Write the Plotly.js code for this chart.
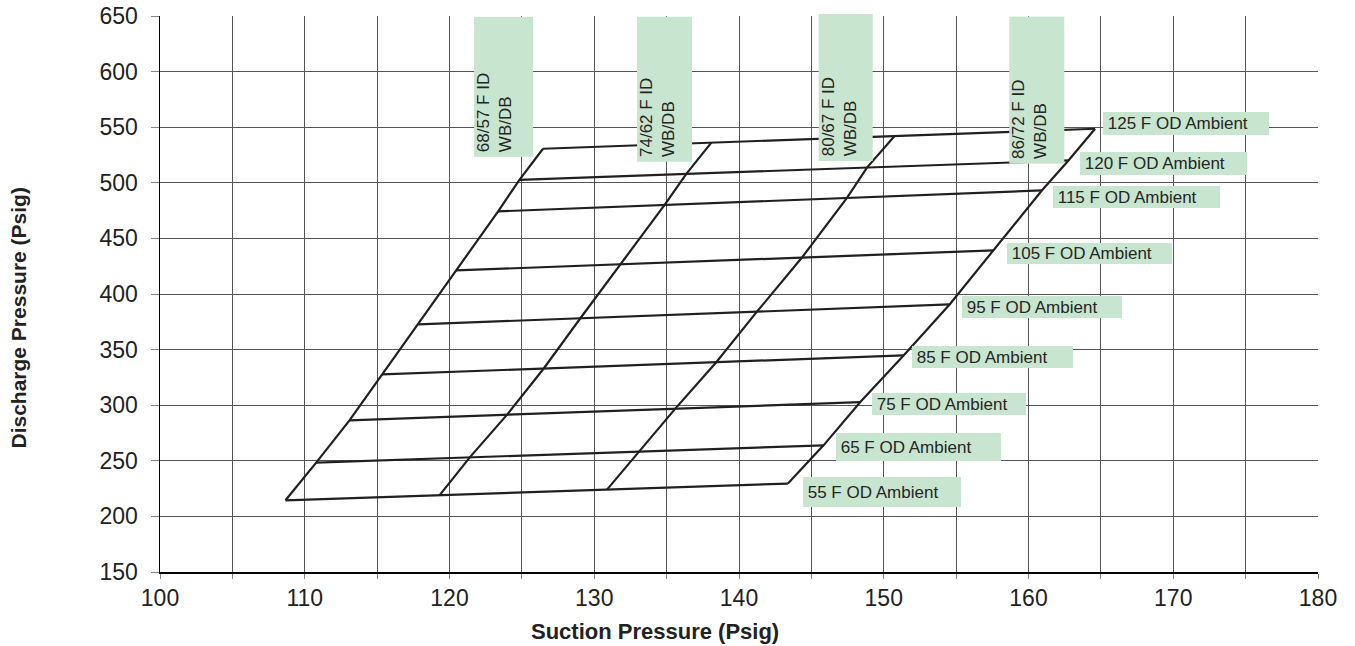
<!DOCTYPE html>
<html>
<head>
<meta charset="utf-8">
<script src="https://cdn.plot.ly/plotly-3.0.1.min.js"></script>
<style>html,body{margin:0;padding:0;background:#fff;}#chart{width:1355px;height:646px;}</style>
</head>
<body>
<div id="chart"></div>
<script>
// Outdoor ambient temperatures (rows) and indoor WB/DB conditions (columns)
const ambientTemps = [55, 65, 75, 85, 95, 105, 115, 120, 125];
const ambientLabels = ["55 F OD Ambient", "65 F OD Ambient", "75 F OD Ambient", "85 F OD Ambient",
  "95 F OD Ambient", "105 F OD Ambient", "115 F OD Ambient", "120 F OD Ambient", "125 F OD Ambient"];
const indoorLabels = ["68/57 F ID<br>WB/DB", "74/62 F ID<br>WB/DB", "80/67 F ID<br>WB/DB", "86/72 F ID<br>WB/DB"];

// Suction pressure (Psig) per indoor condition, one value per ambient row
const suction6857 = [108.67, 110.79, 113.09, 115.34, 117.83, 120.45, 123.36, 124.83, 126.46];
const suction7462 = [119.32, 121.40, 123.98, 126.51, 129.04, 131.80, 134.86, 136.36, 138.09];
const suction8067 = [130.88, 133.07, 135.60, 138.43, 141.24, 144.35, 147.46, 148.84, 150.75];
const suction8672 = [143.38, 145.84, 148.38, 151.37, 154.55, 157.58, 160.92, 162.76, 164.60];

// Discharge pressure (Psig) per indoor condition, one value per ambient row
const discharge6857 = [214.5, 248.4, 286.4, 327.7, 372.7, 421.2, 474.3, 502.7, 530.6];
const discharge7462 = [219.1, 253.1, 291.5, 333.0, 378.2, 426.7, 480.1, 508.0, 536.1];
const discharge8067 = [224.1, 258.2, 296.9, 338.7, 384.1, 432.8, 486.4, 513.7, 542.1];
const discharge8672 = [229.5, 263.9, 302.8, 344.8, 390.6, 439.2, 493.1, 520.1, 548.6];

// Axis ticks and titles
const xTickVals = [100, 110, 120, 130, 140, 150, 160, 170, 180];
const yTickVals = [150, 200, 250, 300, 350, 400, 450, 500, 550, 600, 650];
const xTitle = 'Suction Pressure (Psig)';
const yTitle = 'Discharge Pressure (Psig)';

const suctionCols = [suction6857, suction7462, suction8067, suction8672];
const dischargeCols = [discharge6857, discharge7462, discharge8067, discharge8672];

const lineStyle = {color: '#202020', width: 2.2};
const traces = [];
// Ambient lines (across indoor conditions)
ambientTemps.forEach((t, i) => {
  traces.push({
    x: suctionCols.map(c => c[i]),
    y: dischargeCols.map(c => c[i]),
    mode: 'lines', line: lineStyle, hoverinfo: 'skip', showlegend: false
  });
});
// Indoor condition lines (across ambient temps)
suctionCols.forEach((c, j) => {
  traces.push({
    x: c, y: dischargeCols[j],
    mode: 'lines', line: lineStyle, hoverinfo: 'skip', showlegend: false
  });
});

const labelBg = '#c8e5cf';
const fam = 'Liberation Sans, Arial, sans-serif';
const labelFont = {family: fam, size: 17, color: '#262626'};
const NB = '\u00a0';

// Ambient label placement (box left x in data, centre y in data, box w/h in px)
const ambLabelPos = [
  [144.39, 222.3, 158, 30], [146.67, 262.8, 165, 28], [149.21, 301.4, 154, 22],
  [151.97, 343.3, 161, 22], [155.42, 388.2, 160, 22], [158.53, 436.5, 165, 21],
  [161.66, 487.1, 167, 22], [163.57, 517.4, 167, 23], [165.18, 553.4, 166, 23]
];
// Indoor label placement (centre x, centre y, box length along text, box thickness)
const idLabelPos = [
  [123.73, 586.7, 140, 59], [134.88, 584.5, 145, 55], [147.38, 586.0, 147, 54], [160.55, 583.3, 147, 55]
];

const annotations = [];
ambientLabels.forEach((txt, i) => {
  const p = ambLabelPos[i];
  annotations.push({
    xref: 'x', yref: 'y', x: p[0], y: p[1], xanchor: 'left', yanchor: 'middle',
    text: NB + txt, showarrow: false, bgcolor: labelBg, borderpad: 0, borderwidth: 0,
    width: p[2], height: p[3], align: 'left', valign: 'middle', font: labelFont
  });
});
indoorLabels.forEach((txt, j) => {
  const p = idLabelPos[j];
  annotations.push({
    xref: 'x', yref: 'y', x: p[0], y: p[1], xanchor: 'center', yanchor: 'middle',
    text: txt.split('<br>').map(s => NB + s).join('<br>'), showarrow: false, textangle: -90,
    bgcolor: labelBg, borderpad: 0, borderwidth: 0,
    width: p[2], height: p[3], align: 'left', valign: 'top', font: labelFont
  });
});
// Axis titles (positioned as in the reference, not centred on the plot)
annotations.push({
  xref: 'paper', yref: 'paper', x: 0.4277, y: -0.1068, xanchor: 'center', yanchor: 'middle',
  text: '<b>' + xTitle + '</b>', showarrow: false, font: {family: fam, size: 22, color: '#222222'}
});
annotations.push({
  xref: 'paper', yref: 'paper', x: -0.1221, y: 0.457, xanchor: 'center', yanchor: 'middle',
  text: '<b>' + yTitle + '</b>', showarrow: false, textangle: -90, font: {family: fam, size: 21, color: '#222222'}
});

const gridColor = '#555555';
const layout = {
  width: 1355, height: 646,
  margin: {l: 159.5, r: 37, t: 15.5, b: 74.4, pad: 0},
  paper_bgcolor: '#ffffff', plot_bgcolor: '#ffffff',
  font: {family: fam, color: '#222222'},
  showlegend: false,
  xaxis: {
    range: [100, 180], tickvals: xTickVals, ticktext: xTickVals.map(String),
    showgrid: true, gridcolor: gridColor, gridwidth: 1,
    minor: {dtick: 5, tick0: 100, showgrid: true, gridcolor: gridColor, gridwidth: 1, ticks: 'outside', ticklen: 5, tickcolor: '#888'},
    ticks: 'outside', ticklen: 5, tickcolor: '#888', ticklabelstandoff: 0,
    showline: true, linecolor: '#000000', linewidth: 1.5, zeroline: false, mirror: false,
    tickfont: {size: 23, color: '#222222'}
  },
  yaxis: {
    range: [150, 650], tickvals: yTickVals, ticktext: yTickVals.map(String),
    showgrid: true, gridcolor: gridColor, gridwidth: 1,
    ticks: 'outside', ticklen: 8, tickcolor: '#888', ticklabelstandoff: 8,
    showline: true, linecolor: '#000000', linewidth: 1.5, zeroline: false, mirror: false,
    tickfont: {size: 23, color: '#222222'}
  },
  annotations: annotations
};

Plotly.newPlot('chart', traces, layout, {displayModeBar: false, staticPlot: true});
</script>
</body>
</html>
